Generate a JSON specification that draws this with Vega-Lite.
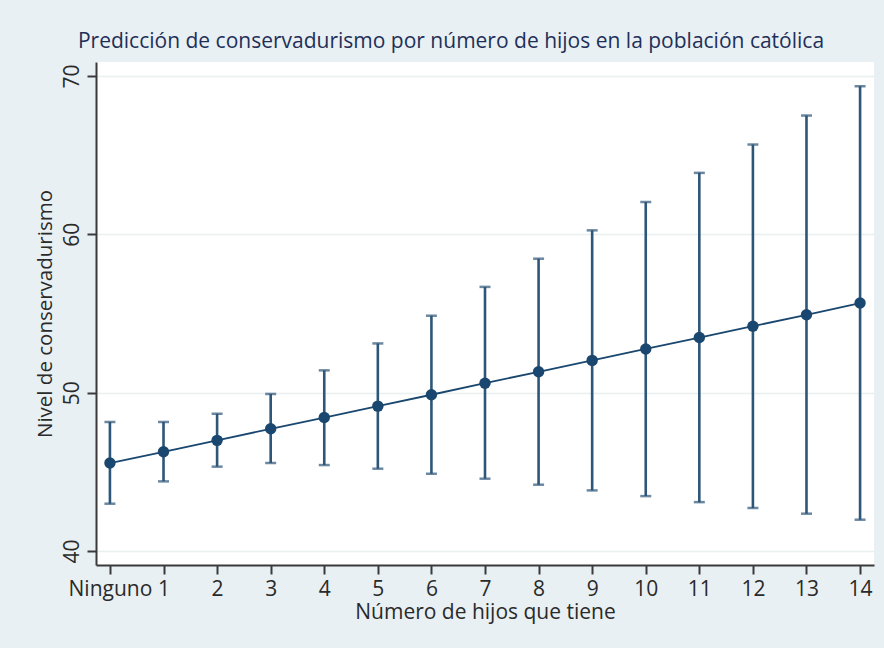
{
  "$schema": "https://vega.github.io/schema/vega-lite/v6.json",
  "width": 778,
  "height": 503,
  "autosize": {"type": "none"},
  "padding": {"left": 96, "top": 62, "right": 10, "bottom": 83},
  "background": "#E9F0F3",
  "config": {
    "view": {"fill": "#FFFFFF", "stroke": null},
    "font": "Open Sans"
  },
  "title": {
    "text": "Predicción de conservadurismo por número de hijos en la población católica",
    "font": "Open Sans",
    "fontSize": 21,
    "fontWeight": "normal",
    "color": "#1E2F58",
    "anchor": "middle",
    "baseline": "alphabetic",
    "offset": -7,
    "dx": -34
  },
  "data": {
    "values": [
      {"hijos": 0, "margen": 45.56, "lo": 42.99, "hi": 48.15},
      {"hijos": 1, "margen": 46.27, "lo": 44.40, "hi": 48.15},
      {"hijos": 2, "margen": 46.99, "lo": 45.33, "hi": 48.67},
      {"hijos": 3, "margen": 47.72, "lo": 45.56, "hi": 49.92},
      {"hijos": 4, "margen": 48.43, "lo": 45.43, "hi": 51.41},
      {"hijos": 5, "margen": 49.15, "lo": 45.20, "hi": 53.11},
      {"hijos": 6, "margen": 49.87, "lo": 44.88, "hi": 54.86},
      {"hijos": 7, "margen": 50.60, "lo": 44.57, "hi": 56.68},
      {"hijos": 8, "margen": 51.32, "lo": 44.19, "hi": 58.46},
      {"hijos": 9, "margen": 52.04, "lo": 43.83, "hi": 60.25},
      {"hijos": 10, "margen": 52.76, "lo": 43.47, "hi": 62.04},
      {"hijos": 11, "margen": 53.48, "lo": 43.09, "hi": 63.88},
      {"hijos": 12, "margen": 54.20, "lo": 42.72, "hi": 65.67},
      {"hijos": 13, "margen": 54.92, "lo": 42.36, "hi": 67.50},
      {"hijos": 14, "margen": 55.66, "lo": 41.98, "hi": 69.35}
    ]
  },
  "encoding": {
    "x": {
      "field": "hijos",
      "type": "quantitative",
      "scale": {"domain": [-0.26, 14.26], "nice": false, "zero": false},
      "axis": {
        "title": "Número de hijos que tiene",
        "values": [0,1,2,3,4,5,6,7,8,9,10,11,12,13,14],
        "labelExpr": "datum.value == 0 ? 'Ninguno' : datum.label",
        "grid": false,
        "domainColor": "#3A3A3A",
        "domainWidth": 2,
        "tickColor": "#3A3A3A",
        "tickWidth": 2,
        "tickSize": 9,
        "labelFont": "Open Sans",
        "labelFontSize": 21,
        "labelColor": "#2A2A2A",
        "labelPadding": 4,
        "labelOverlap": false,
        "titleFont": "Open Sans",
        "titleFontSize": 21,
        "titleFontWeight": "normal",
        "titleColor": "#2A2A2A",
        "titleBaseline": "alphabetic",
        "titleY": 53
      }
    }
  },
  "layer": [
    {
      "mark": {"type": "rule", "color": "#2D5679", "strokeWidth": 2.6},
      "encoding": {
        "y": {"field": "lo", "type": "quantitative"},
        "y2": {"field": "hi"}
      }
    },
    {
      "mark": {"type": "tick", "orient": "horizontal", "color": "#2D5679", "size": 11, "thickness": 2.5},
      "encoding": {"y": {"field": "lo", "type": "quantitative"}}
    },
    {
      "mark": {"type": "tick", "orient": "horizontal", "color": "#2D5679", "size": 11, "thickness": 2.5},
      "encoding": {"y": {"field": "hi", "type": "quantitative"}}
    },
    {
      "mark": {"type": "line", "color": "#1A476F", "strokeWidth": 1.8},
      "encoding": {"y": {"field": "margen", "type": "quantitative"}}
    },
    {
      "mark": {"type": "point", "filled": true, "opacity": 1, "color": "#1A476F", "size": 130},
      "encoding": {
        "y": {
          "field": "margen",
          "type": "quantitative",
          "scale": {"domain": [39.12, 70.88], "nice": false, "zero": false},
          "axis": {
            "title": "Nivel de conservadurismo",
            "values": [40, 50, 60, 70],
            "grid": true,
            "gridColor": "#E8F0F0",
            "gridWidth": 1.5,
            "domainColor": "#3A3A3A",
            "domainWidth": 2,
            "tickColor": "#3A3A3A",
            "tickWidth": 2,
            "tickSize": 9,
            "labelAngle": -90,
            "labelAlign": "center",
            "labelBaseline": "alphabetic",
            "labelFont": "Open Sans",
            "labelFontSize": 21,
            "labelColor": "#2A2A2A",
            "labelPadding": 9,
            "titleFont": "Open Sans",
            "titleFontSize": 20.5,
            "titleFontWeight": "normal",
            "titleColor": "#2A2A2A",
            "titleBaseline": "alphabetic",
            "titleAngle": -90,
            "titleX": -45
          }
        }
      }
    }
  ]
}
